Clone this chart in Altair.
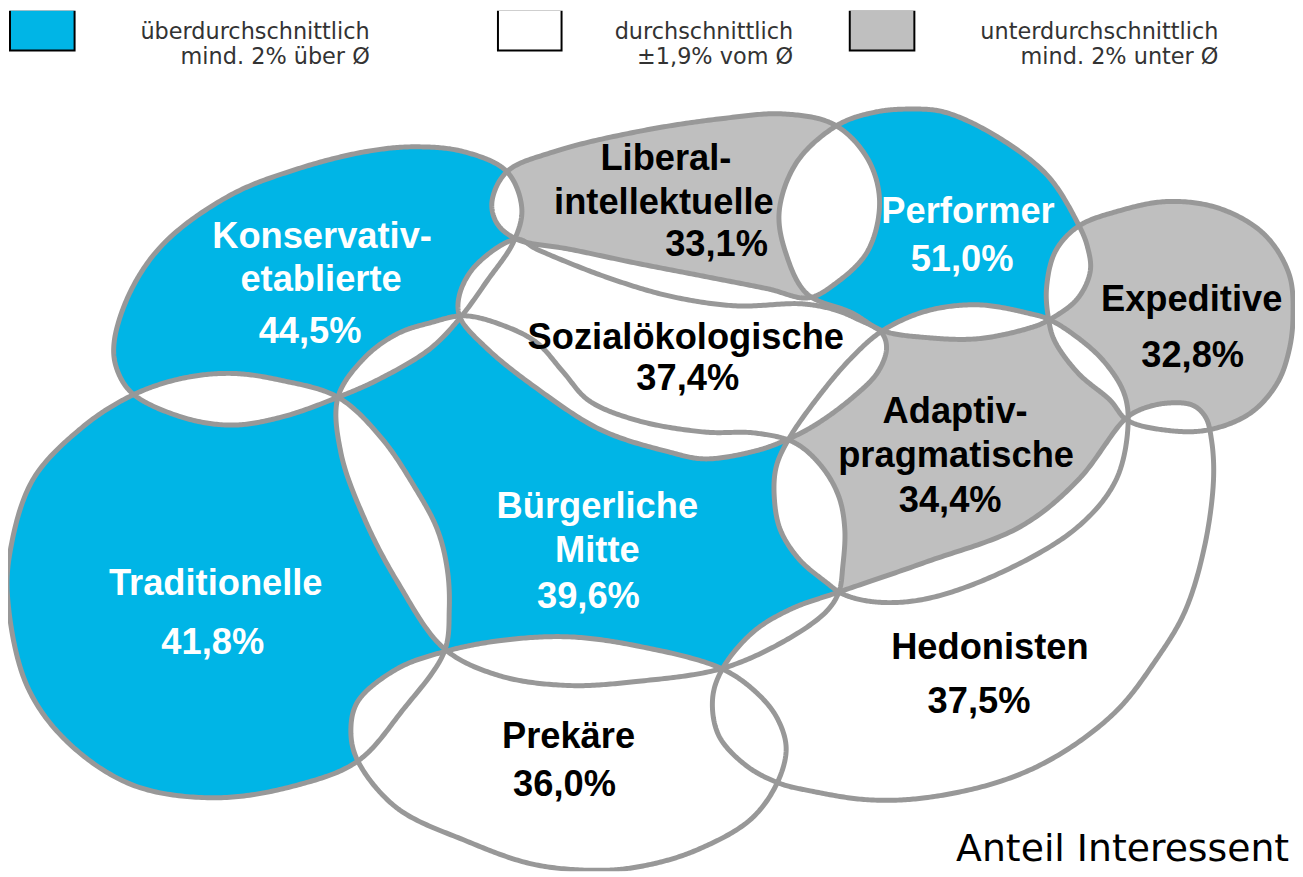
import numpy as np
import pandas as pd
import altair as alt

# ---------------- data ----------------
milieus = ["Konservativ-etablierte", "Liberal-intellektuelle", "Performer", "Expeditive",
           "Traditionelle", "Bürgerliche Mitte", "Sozialökologische", "Adaptiv-pragmatische",
           "Prekäre", "Hedonisten"]
shares = [44.5, 33.1, 51.0, 32.8, 41.8, 39.6, 37.4, 34.4, 36.0, 37.5]
levels = ["über", "unter", "über", "unter", "über", "über", "durch", "unter", "durch", "durch"]

legend_keys = ["über", "durch", "unter"]
legend_line1 = ["überdurchschnittlich", "durchschnittlich", "unterdurchschnittlich"]
legend_line2 = ["mind. 2% über Ø", "±1,9% vom Ø", "mind. 2% unter Ø"]
footer_text = "Anteil Interessent"

name_lines = {
    "Konservativ-etablierte": ["Konservativ-", "etablierte"],
    "Liberal-intellektuelle": ["Liberal-", "intellektuelle"],
    "Performer": ["Performer"],
    "Expeditive": ["Expeditive"],
    "Traditionelle": ["Traditionelle"],
    "Bürgerliche Mitte": ["Bürgerliche", "Mitte"],
    "Sozialökologische": ["Sozialökologische"],
    "Adaptiv-pragmatische": ["Adaptiv-", "pragmatische"],
    "Prekäre": ["Prekäre"],
    "Hedonisten": ["Hedonisten"],
}

# ---------------- styles ----------------
level_fill = {"über": "#00B5E6", "durch": "#FFFFFF", "unter": "#BFBFBF"}
level_text = {"über": "#FFFFFF", "durch": "#000000", "unter": "#000000"}
OUTLINE_COLOR = "#989898"

# ---------------- layout / geometry (page pixels) ----------------
shape_ctrl = {
    "Konservativ-etablierte": [(115, 340), (117, 367), (133, 393), (183, 417), (233, 425), (283, 417),
                               (340, 397), (383, 378), (433, 348), (463, 317), (490, 280), (517, 240),
                               (525, 207), (510, 170), (467, 150), (417, 145), (367, 150), (300, 167),
                               (233, 193), (167, 240), (133, 287)],
    "Liberal-intellektuelle": [(495, 200), (510, 170), (557, 150), (640, 130), (723, 117), (790, 112),
                               (840, 123), (873, 157), (885, 200), (873, 250), (840, 283), (813, 297),
                               (773, 288), (707, 275), (640, 262), (573, 248), (520, 238), (500, 222)],
    "Performer": [(843, 123), (881, 110), (916, 107), (950, 110), (1002, 134), (1054, 174), (1085, 223),
                  (1094, 245), (1097, 270), (1084, 298), (1054, 320), (1037, 327), (985, 338), (933, 337),
                  (888, 330), (857, 312), (812, 293), (791, 253), (784, 210), (802, 160)],
    "Expeditive": [(1085, 225), (1124, 210), (1175, 200), (1227, 207), (1272, 233), (1297, 273), (1301, 315),
                   (1297, 350), (1285, 383), (1258, 413), (1215, 430), (1172, 430), (1134, 420), (1117, 400),
                   (1085, 373), (1061, 340), (1055, 318), (1053, 287), (1062, 250)],
    "Traditionelle": [(133, 395), (183, 378), (233, 373), (283, 380), (340, 397), (383, 437), (417, 487),
                      (440, 530), (450, 570), (452, 610), (447, 653), (405, 712), (360, 763), (300, 787),
                      (217, 800), (133, 787), (67, 743), (27, 687), (8, 603), (10, 553), (33, 480), (83, 427)],
    "Bürgerliche Mitte": [(340, 397), (343, 453), (367, 520), (400, 583), (447, 650), (502, 677), (571, 687),
                          (640, 683), (726, 670), (788, 643), (831, 613), (844, 593), (848, 567), (850, 530),
                          (844, 497), (827, 467), (800, 443), (760, 433), (709, 432), (640, 420), (592, 400),
                          (567, 372), (540, 342), (507, 325), (467, 315), (433, 322), (400, 333), (367, 357)],
    "Sozialökologische": [(520, 238), (540, 248), (607, 275), (673, 295), (740, 305), (807, 303), (840, 309),
                          (862, 318), (887, 332), (892, 348), (883, 372), (857, 398), (820, 425), (791, 440),
                          (760, 451), (709, 459), (673, 452), (605, 430), (540, 388), (490, 348), (463, 317),
                          (462, 295), (478, 265)],
    "Adaptiv-pragmatische": [(888, 330), (933, 310), (985, 304), (1037, 313), (1054, 318), (1079, 333),
                             (1110, 360), (1131, 393), (1135, 425), (1123, 480), (1085, 527), (1008, 573),
                             (931, 600), (881, 603), (848, 595), (831, 583), (804, 560), (785, 530),
                             (779, 497), (781, 467), (793, 440), (823, 397), (857, 357)],
    "Prekäre": [(447, 653), (502, 642), (571, 638), (640, 647), (726, 670), (762, 695), (782, 720),
                (791, 750), (782, 785), (755, 822), (700, 853), (650, 868), (605, 873), (537, 867),
                (468, 843), (399, 810), (360, 763), (353, 733), (360, 703), (400, 670)],
    "Hedonisten": [(844, 593), (931, 563), (1027, 527), (1085, 480), (1131, 420), (1146, 410), (1173, 403),
                   (1200, 405), (1213, 417), (1219, 440), (1221, 480), (1212, 547), (1192, 613), (1162, 663),
                   (1123, 713), (1065, 757), (1008, 783), (931, 800), (873, 802), (815, 793), (783, 785),
                   (750, 767), (723, 737), (717, 700), (727, 670), (758, 633), (796, 610)],
}

label_pos = {  # (x, baseline) for each name line, then for the percentage
    "Konservativ-etablierte": [(324, 247), (323, 290), (312, 342)],
    "Liberal-intellektuelle": [(670, 168), (668, 213), (721, 255)],
    "Performer": [(974, 222), (968, 270)],
    "Expeditive": [(1199, 310), (1200, 367)],
    "Traditionelle": [(217, 596), (214, 655)],
    "Bürgerliche Mitte": [(601, 518), (601, 563), (592, 609)],
    "Sozialökologische": [(690, 348), (692, 390)],
    "Adaptiv-pragmatische": [(961, 423), (962, 467), (956, 512)],
    "Prekäre": [(572, 750), (568, 798)],
    "Hedonisten": [(996, 660), (985, 715)],
}

legend_box = [(10, 7, 75, 48), (501, 7, 565, 48), (855, 7, 920, 48)]
legend_text_right = [372, 798, 1226]
legend_baselines = [37, 62]
footer_pos = (962, 864)


# ---------------- geometry helpers ----------------
def catmull_rom_closed(pts, n_seg=30, alpha=0.5):
    P = np.asarray(pts, dtype=float)
    N = len(P)
    out = []
    for i in range(N):
        p0, p1, p2, p3 = P[(i - 1) % N], P[i], P[(i + 1) % N], P[(i + 2) % N]
        t0 = 0.0
        t1 = t0 + max(np.linalg.norm(p1 - p0), 1e-6) ** alpha
        t2 = t1 + max(np.linalg.norm(p2 - p1), 1e-6) ** alpha
        t3 = t2 + max(np.linalg.norm(p3 - p2), 1e-6) ** alpha
        t = np.linspace(t1, t2, n_seg, endpoint=False)[:, None]
        A1 = (t1 - t) / (t1 - t0) * p0 + (t - t0) / (t1 - t0) * p1
        A2 = (t2 - t) / (t2 - t1) * p1 + (t - t1) / (t2 - t1) * p2
        A3 = (t3 - t) / (t3 - t2) * p2 + (t - t2) / (t3 - t2) * p3
        B1 = (t2 - t) / (t2 - t0) * A1 + (t - t0) / (t2 - t0) * A2
        B2 = (t3 - t) / (t3 - t1) * A2 + (t - t1) / (t3 - t1) * A3
        C = (t2 - t) / (t2 - t1) * B1 + (t - t1) / (t2 - t1) * B2
        out.append(C)
    return np.vstack(out)


def signed_area(poly):
    x, y = poly[:, 0], poly[:, 1]
    return 0.5 * np.sum(x * np.roll(y, -1) - np.roll(x, -1) * y)


def inside(pts, poly):
    x = pts[:, 0][:, None]
    y = pts[:, 1][:, None]
    x1 = poly[:, 0][None, :]
    y1 = poly[:, 1][None, :]
    x2 = np.roll(poly[:, 0], -1)[None, :]
    y2 = np.roll(poly[:, 1], -1)[None, :]
    cond = (y1 > y) != (y2 > y)
    with np.errstate(divide="ignore", invalid="ignore"):
        xint = x1 + (y - y1) * (x2 - x1) / (y2 - y1)
    cross = cond & (x < xint)
    return cross.sum(axis=1) % 2 == 1


def runs(mask):
    n = len(mask)
    if not mask.any():
        return []
    if mask.all():
        return [np.arange(n)]
    k = int(np.argmin(mask))
    idx = (np.arange(n) + k) % n
    res, cur = [], []
    for j in idx:
        if mask[j]:
            cur.append(j)
        elif cur:
            res.append(np.array(cur))
            cur = []
    if cur:
        res.append(np.array(cur))
    return res


def intersect(A, B):
    ma, mb = inside(A, B), inside(B, A)
    if ma.all():
        return [A]
    if mb.all():
        return [B]
    ra, rb = runs(ma), runs(mb)
    if not ra or not rb:
        return []
    polys, used = [], set()
    for i0 in range(len(ra)):
        if i0 in used:
            continue
        ring, i = [], i0
        for _ in range(50):
            used.add(i)
            arcA = A[ra[i]]
            ring.append(arcA)
            j = min(range(len(rb)), key=lambda jj: np.linalg.norm(B[rb[jj][0]] - arcA[-1]))
            arcB = B[rb[j]]
            ring.append(arcB)
            i = min(range(len(ra)), key=lambda ii: np.linalg.norm(A[ra[ii][0]] - arcB[-1]))
            if i == i0 or i in used:
                break
        polys.append(np.vstack(ring))
    return polys


def feature(poly, props):
    ring = [[round(float(x), 2), round(float(y), 2)] for x, y in poly]
    ring.append(ring[0])
    return {"type": "Feature", "properties": props,
            "geometry": {"type": "Polygon", "coordinates": [ring]}}


outlines = {}
for name in milieus:
    poly = catmull_rom_closed(shape_ctrl[name])
    if signed_area(poly) < 0:
        poly = poly[::-1]
    outlines[name] = poly

fill_feats = [feature(outlines[n], {"fill": level_fill[l], "name": n}) for n, l in zip(milieus, levels)]
white_feats = []
for a in range(len(milieus)):
    for b in range(a + 1, len(milieus)):
        for poly in intersect(outlines[milieus[a]], outlines[milieus[b]]):
            if len(poly) >= 3 and abs(signed_area(poly)) > 15:
                white_feats.append(feature(poly, {"fill": "#FFFFFF"}))
line_feats = [feature(outlines[n], {"name": n}) for n in milieus]

box_feats = []
for (x0, y0, x1, y1), key in zip(legend_box, legend_keys):
    box_feats.append(feature(np.array([(x0, y0), (x1, y0), (x1, y1), (x0, y1)], float),
                             {"fill": level_fill[key]}))

# label table
rows = []
for name, share, lvl in zip(milieus, shares, levels):
    texts = name_lines[name] + [f"{share:.1f}".replace(".", ",") + "%"]
    for t, (x, y) in zip(texts, label_pos[name]):
        rows.append({"lon": x, "lat": y, "text": t, "color": level_text[lvl]})
labels_df = pd.DataFrame(rows)

leg_rows = []
for xr, l1, l2 in zip(legend_text_right, legend_line1, legend_line2):
    leg_rows.append({"lon": xr, "lat": legend_baselines[0], "text": l1})
    leg_rows.append({"lon": xr, "lat": legend_baselines[1], "text": l2})
legend_df = pd.DataFrame(leg_rows)

footer_df = pd.DataFrame([{"lon": footer_pos[0], "lat": footer_pos[1], "text": footer_text}])

proj = dict(type="identity", scale=1, translate=[-8, -8])

fills = alt.Chart(alt.Data(values=fill_feats)).mark_geoshape(strokeWidth=0).encode(
    fill=alt.Fill("properties.fill:N", scale=None)).project(**proj)
whites = alt.Chart(alt.Data(values=white_feats)).mark_geoshape(strokeWidth=0).encode(
    fill=alt.Fill("properties.fill:N", scale=None)).project(**proj)
lines = alt.Chart(alt.Data(values=line_feats)).mark_geoshape(
    filled=False, stroke=OUTLINE_COLOR, strokeWidth=5, strokeJoin="round").project(**proj)
boxes = alt.Chart(alt.Data(values=box_feats)).mark_geoshape(
    stroke="#000000", strokeWidth=2).encode(
    fill=alt.Fill("properties.fill:N", scale=None)).project(**proj)

label_layer = alt.Chart(labels_df).mark_text(
    font="Liberation Sans", fontSize=36.5, fontWeight="bold", align="center", baseline="alphabetic"
).encode(longitude="lon:Q", latitude="lat:Q", text="text:N",
         color=alt.Color("color:N", scale=None)).project(**proj)

legend_layer = alt.Chart(legend_df).mark_text(
    font="DejaVu Sans", fontSize=22.5, color="#333333", align="right", baseline="alphabetic"
).encode(longitude="lon:Q", latitude="lat:Q", text="text:N").project(**proj)

footer_layer = alt.Chart(footer_df).mark_text(
    font="DejaVu Sans", fontSize=38, color="#000000", align="left", baseline="alphabetic"
).encode(longitude="lon:Q", latitude="lat:Q", text="text:N").project(**proj)

chart = alt.layer(fills, whites, lines, boxes, label_layer, legend_layer, footer_layer).properties(
    width=1295, height=866, autosize=alt.AutoSizeParams(type="none"), padding=0
).configure_view(stroke=None)

chart.save("out.html", embed_options={"renderer": "svg", "actions": False})
